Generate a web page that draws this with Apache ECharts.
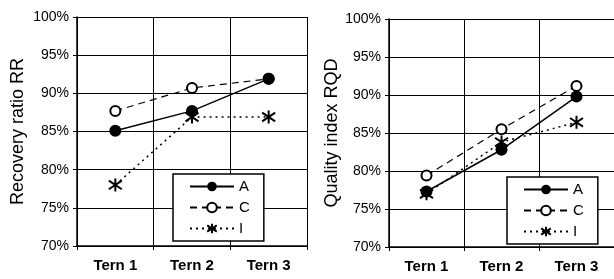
<!DOCTYPE html>
<html>
<head>
<meta charset="utf-8">
<script src="https://cdn.jsdelivr.net/npm/echarts@6/dist/echarts.min.js"></script>
<style>
  html, body { margin: 0; padding: 0; background: #fff; }
  #chart-container { width: 614px; height: 279px; }
</style>
</head>
<body>
<div id="chart-container"></div>
<script>
var terms = ['Tern 1', 'Tern 2', 'Tern 3'];
var yTicks = [70, 75, 80, 85, 90, 95, 100];

// left panel: recovery ratio RR (%)
var rrA = [85.1, 87.7, 91.9];
var rrC = [87.7, 90.7, 91.9];
var rrI = [78.0, 86.9, 86.9];

// right panel: quality index RQD (%)
var rqdA = [77.3, 82.8, 89.8];
var rqdC = [79.4, 85.5, 91.2];
var rqdI = [77.0, 83.8, 86.4];

var dom = document.getElementById('chart-container');
var myChart = echarts.init(dom, null, { renderer: 'canvas' });

var font = 'Liberation Sans, Arial, sans-serif';
var star = 'path://M0,-6 L0,6 M-5,-4 L5,4 M-5,4 L5,-4';

function xAxisFor(grid) {
  return {
    type: 'category',
    gridIndex: grid,
    data: terms,
    boundaryGap: true,
    axisLine: { lineStyle: { color: '#000', width: 1.5 } },
    axisTick: { show: true, length: 4, lineStyle: { color: '#000' } },
    axisLabel: { color: '#000', fontFamily: font, fontSize: 15, fontWeight: 'bold', margin: 12 },
    splitLine: { show: true, lineStyle: { color: '#000', width: 1 } }
  };
}

function yAxisFor(grid, name, gap) {
  return {
    type: 'value',
    gridIndex: grid,
    min: yTicks[0],
    max: yTicks[yTicks.length - 1],
    interval: 5,
    name: name,
    nameLocation: 'middle',
    nameRotate: 90,
    nameGap: gap,
    nameTextStyle: { color: '#000', fontFamily: font, fontSize: 18 },
    axisLine: { show: true, lineStyle: { color: '#000', width: 1.5 } },
    axisTick: { show: true, length: 4, lineStyle: { color: '#000' } },
    axisLabel: { color: '#000', fontFamily: font, fontSize: 14, margin: 8, formatter: '{value}%' },
    splitLine: { show: true, lineStyle: { color: '#000', width: 1 } }
  };
}

function seriesFor(grid, a, c, i) {
  return [
    {
      name: 'C', type: 'line', xAxisIndex: grid, yAxisIndex: grid, data: c,
      symbol: 'emptyCircle', symbolSize: 10,
      lineStyle: { color: '#000', width: 1.2, type: [7, 5] },
      itemStyle: { color: '#000', borderColor: '#000', borderWidth: 1.5 }
    },
    {
      name: 'I', type: 'line', xAxisIndex: grid, yAxisIndex: grid, data: i,
      symbol: star, symbolSize: 13,
      lineStyle: { color: '#000', width: 1.5, type: [2, 4] },
      itemStyle: { color: 'none', borderColor: '#000', borderWidth: 2 }
    },
    {
      name: 'A', type: 'line', xAxisIndex: grid, yAxisIndex: grid, data: a,
      symbol: 'circle', symbolSize: 12,
      lineStyle: { color: '#000', width: 1.5 },
      itemStyle: { color: '#000' }
    }
  ];
}

function legendFor(left, top) {
  return {
    data: ['A', 'C', 'I'],
    orient: 'vertical',
    left: left,
    top: top,
    itemWidth: 44,
    itemHeight: 12,
    itemGap: 6,
    padding: [5, 14, 5, 16],
    borderColor: '#000',
    borderWidth: 1.5,
    backgroundColor: '#fff',
    textStyle: { color: '#000', fontFamily: font, fontSize: 15 },
    selectedMode: false
  };
}

var option = {
  backgroundColor: '#fff',
  animation: false,
  grid: [
    { left: 77, top: 17, width: 230, height: 229 },
    { left: 389, top: 19, width: 225, height: 228 }
  ],
  xAxis: [xAxisFor(0), xAxisFor(1)],
  yAxis: [yAxisFor(0, 'Recovery ratio RR', 50), yAxisFor(1, 'Quality index RQD', 48)],
  legend: [legendFor(173, 174), legendFor(507, 177)],
  series: seriesFor(0, rrA, rrC, rrI).concat(seriesFor(1, rqdA, rqdC, rqdI))
};

myChart.setOption(option);
window.addEventListener('resize', myChart.resize);
</script>
</body>
</html>
